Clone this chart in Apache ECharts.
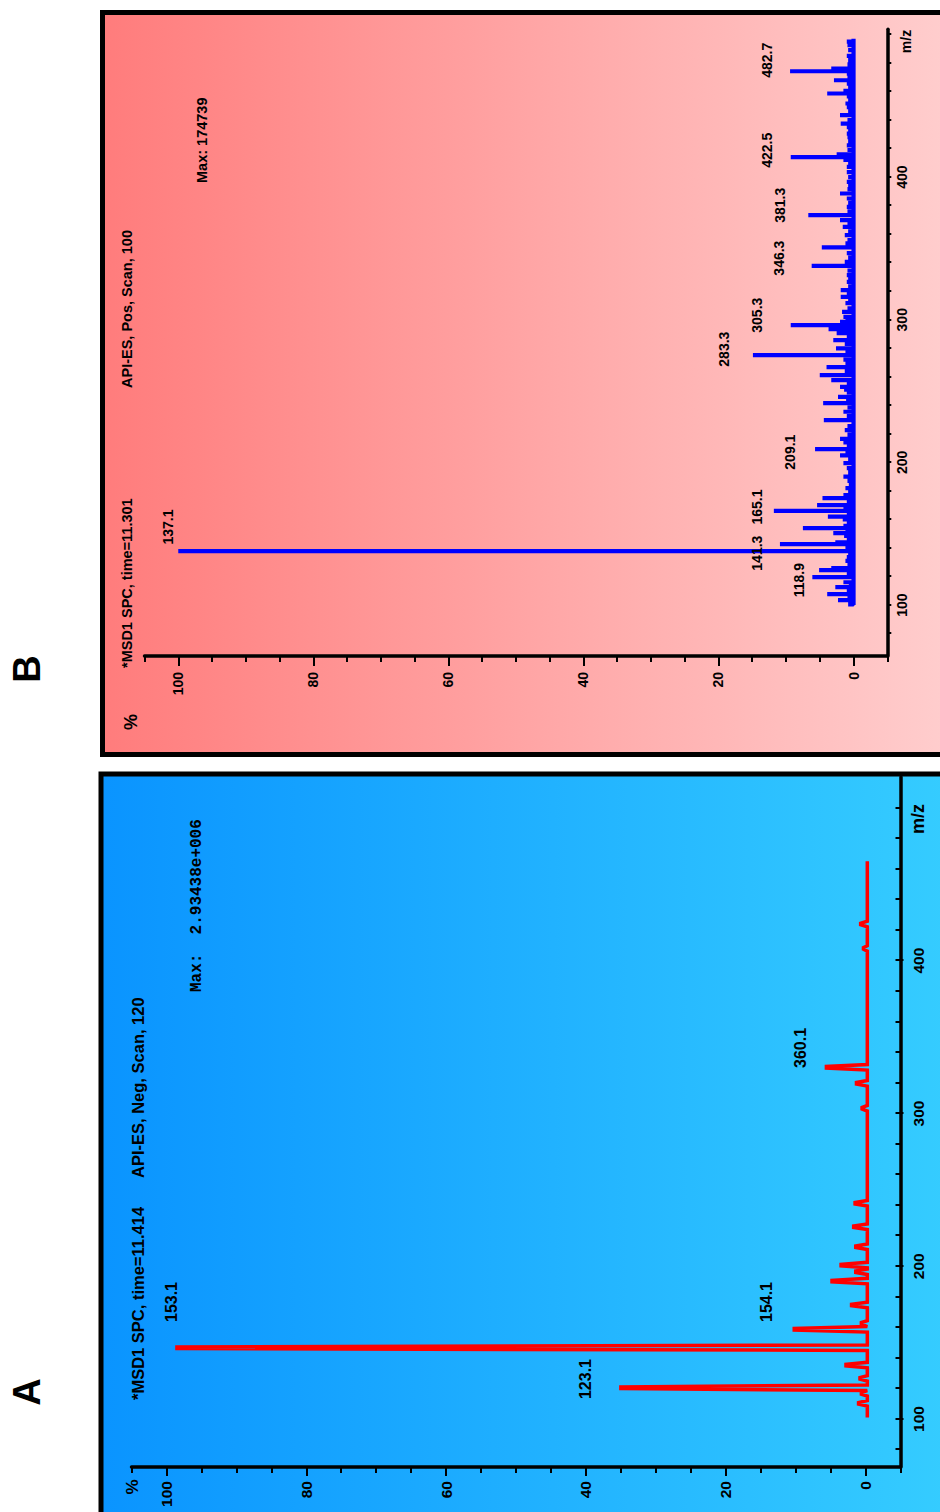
<!DOCTYPE html>
<html><head><meta charset="utf-8">
<script src="https://cdn.jsdelivr.net/npm/echarts@6.0.0/dist/echarts.min.js"></script>
<style>
html,body{margin:0;padding:0;width:940px;height:1512px;overflow:hidden;background:#fff;}
#chart{position:absolute;left:0;top:0;width:1512px;height:940px;transform-origin:0 0;transform:translate(0px,1512px) rotate(-90deg);}
</style></head><body><div id="chart"></div>
<script>
const FONT = '"Liberation Sans", Arial, Helvetica, sans-serif';

// ---------- Panel A : API-ES, Neg (m/z, % intensity) ----------
const peakMzA  = [110.3, 116.8, 120.5, 126.6, 135.3, 146.7, 158.7, 162.6, 174.6, 190.3, 196.4, 200.8, 212.8, 225.9, 241.2, 303.4, 319.7, 330.2, 408.0, 424.0];
const peakPctA = [1.0,   0.6,   35.0,  0.8,   2.8,   98.5,  10.2,  0.6,   2.0,   4.8,   1.4,   3.5,   1.4,   1.7,   1.5,   0.5,   1.3,   5.6,   0.3,   0.7];
const baselineA = -0.25;
const traceRangeA = [101, 465];
const annoTextA = ['123.1', '153.1', '154.1', '360.1'];
const annoMzA   = [126.2, 176.6, 176.6, 342.9];
const annoPctA  = [38.9, 98.1, 13.0, 8.1];

// ---------- Panel B : API-ES, Pos ----------
const peakMzB = [100.5,103.5,105.5,107.7,110.0,112.6,114.5,116.0,119.6,122.0,124.5,126.0,128.5,131.0,133.6,135.5,137.8,140.0,142.7,144.0,146.5,148.5,150.5,152.0,154.0,155.5,158.0,160.0,162.0,164.0,166.0,168.0,170.0,172.0,175.0,177.0,179.5,182.0,184.5,187.0,190.0,193.0,196.0,199.5,202.0,205.0,207.0,209.3,212.0,214.0,216.5,219.5,222.6,225.5,229.6,232.5,235.5,238.5,241.6,244.0,246.0,249.0,251.0,253.0,255.5,257.7,261.2,264.0,266.8,269.5,272.0,275.2,278.0,280.0,283.0,285.7,288.0,290.6,293.5,296.2,298.5,300.5,302.0,305.5,308.0,311.6,314.0,316.0,318.0,320.7,323.5,326.6,329.0,331.3,334.5,337.8,340.6,343.5,346.7,350.7,353.5,355.8,359.3,362.0,365.1,367.5,369.8,373.3,376.0,379.1,382.0,385.0,388.5,391.5,394.0,396.6,400.0,403.5,407.1,410.0,412.0,414.0,416.0,419.0,422.3,425.0,428.0,430.5,433.0,435.0,437.5,440.0,443.4,446.0,449.0,451.6,454.0,456.5,458.6,460.5,463.0,465.5,467.9,470.5,472.5,474.2,476.1,479.0,482.0,485.0,489.0,492.5,495.0];
const peakPctB = [0.8,2.3,0.9,3.9,1.0,2.7,0.7,1.5,6.1,1.0,5.1,3.3,0.9,1.2,1.0,0.8,100,1.2,10.9,2.7,1.0,1.4,3.0,1.2,7.5,1.5,1.0,1.6,3.8,1.0,11.8,1.5,5.4,1.0,4.6,1.5,0.8,1.2,0.7,0.9,1.5,0.8,1.0,1.5,0.8,2.0,1.2,5.7,1.0,1.5,2.0,0.9,1.3,0.9,4.4,1.0,1.5,0.9,4.5,1.1,2.3,1.0,1.4,2.0,1.0,3.3,5.0,1.3,4.0,1.2,1.5,14.9,1.2,2.6,1.3,3.0,1.0,2.5,3.7,9.3,2.0,1.2,1.5,1.7,0.9,1.2,0.8,1.9,1.0,1.9,0.8,1.0,0.8,1.0,0.9,6.2,1.3,0.8,1.0,4.7,1.2,0.9,1.3,0.8,1.6,0.9,2.0,6.7,0.9,1.0,0.8,1.0,2.0,0.9,0.8,1.0,0.8,1.0,1.0,0.8,1.5,9.3,2.5,0.9,1.0,0.8,0.9,1.0,0.8,1.0,1.9,0.9,2.0,0.8,1.0,1.2,0.8,1.0,3.9,1.5,0.8,1.0,2.9,0.9,1.0,9.4,3.3,0.9,0.8,1.0,0.8,0.9,1.0];
const baselineB = 0;
const traceRangeB = [100, 497];
const annoTextB = ['118.9','137.1','141.3','165.1','209.1','283.3','305.3','346.3','381.3','422.5','482.7'];
const annoMzB   = [117.5, 154.7, 136.4, 168.7, 207.2, 279.4, 303.2, 343.2, 380.3, 418.8, 481.9];
const annoPctB  = [7.0, 100.5, 13.3, 13.3, 8.4, 18.1, 13.3, 10.0, 9.8, 11.8, 11.8];

// ---------- axis ticks / labels ----------
const pctTicks      = [-5,0,5,10,15,20,25,30,35,40,45,50,55,60,65,70,75,80,85,90,95,100,105];
const pctMajorTicks = [0,20,40,60,80,100];
const pctLabels     = [0,20,40,60,80,100];
const mzTicks       = [80,100,120,140,160,180,200,220,240,260,280,300,320,340,360,380,400,420,440,460,480,500];
const mzLabels      = [100,200,300,400];

// ---------- build traces ----------
const SPIKE_BASE = 1.8, SPIKE_TOP = 0.5;
const dataA = [[traceRangeA[0], baselineA]];
peakMzA.forEach((m, i) => {
  dataA.push([m - SPIKE_BASE, baselineA], [m - SPIKE_TOP, peakPctA[i]], [m + SPIKE_TOP, peakPctA[i]], [m + SPIKE_BASE, baselineA]);
});
dataA.push([traceRangeA[1], baselineA]);

const dataB = [[traceRangeB[0], baselineB]];
peakMzB.forEach((m, i) => {
  dataB.push([m, baselineB], [m, peakPctB[i]], [m, baselineB]);
});
dataB.push([traceRangeB[1], baselineB]);

const black = '#000';
function mzAxis(grid, min, max, opt) {
  return {
    gridIndex: grid, type: 'value', min: min, max: max, position: 'bottom',
    axisLine: { show: opt.line, onZero: false, lineStyle: { color: black, width: 3.5 } },
    axisTick: { show: true, inside: opt.inside, length: opt.len, customValues: opt.ticks, lineStyle: { color: black, width: 2 } },
    axisLabel: { show: opt.labels, customValues: mzLabels, color: black, fontFamily: FONT, fontWeight: 'bold', fontSize: opt.fs, margin: opt.margin },
    splitLine: { show: false }
  };
}
function pctAxis(grid, opt) {
  return {
    gridIndex: grid, type: 'value', min: -5, max: 105, position: 'left',
    axisLine: { show: opt.line, onZero: false, lineStyle: { color: black, width: 3.5 } },
    axisTick: { show: true, inside: false, length: opt.len, customValues: opt.ticks, lineStyle: { color: black, width: 2 } },
    axisLabel: { show: opt.labels, customValues: pctLabels, color: black, fontFamily: FONT, fontWeight: 'bold', fontSize: opt.fs, margin: opt.margin },
    splitLine: { show: false }
  };
}

const gradA = new echarts.graphic.LinearGradient(0, 0, 0, 1, [{ offset: 0, color: '#0a94ff' }, { offset: 1, color: '#35ccff' }]);
const gradB = new echarts.graphic.LinearGradient(0, 0, 0, 1, [{ offset: 0, color: '#ff7c7c' }, { offset: 1, color: '#ffcdcd' }]);

function txt(text, x, y, size, align, family, vAlign) {
  return { type: 'text', z: 20, style: { text: text, x: x, y: y, align: align || 'left', verticalAlign: vAlign || 'middle',
    fill: black, font: 'bold ' + size + 'px ' + (family || FONT) } };
}

const baseGraphics = [
  { type: 'rect', z: -10, shape: { x: -10, y: 101, width: 748, height: 844 }, style: { fill: gradA, stroke: black, lineWidth: 5 } },
  { type: 'rect', z: -10, shape: { x: 757.5, y: 102.5, width: 742, height: 842.5 }, style: { fill: gradB, stroke: black, lineWidth: 5 } },
  txt('A', 120, 27, 38, 'center'),
  txt('B', 843, 27, 38, 'center'),
  txt('*MSD1 SPC, time=11.414', 112, 138, 16.5),
  txt('API-ES, Neg, Scan, 120', 334, 138, 16.5),
  txt('Max:  2.93438e+006', 520, 197, 16, 'left', '"Liberation Mono", "Courier New", monospace'),
  txt('%', 25, 132, 17, 'center'),
  txt('m/z', 693, 918, 18, 'center'),
  txt('*MSD1 SPC, time=11.301', 844, 127, 14.5),
  txt('API-ES, Pos, Scan, 100', 1124, 127, 14.5),
  txt('Max: 174739', 1329, 202, 14.5),
  txt('%', 790, 131, 18, 'center'),
  txt('m/z', 1470.5, 906, 14, 'center')
];

const chart = echarts.init(document.getElementById('chart'), null, { renderer: 'svg', width: 1512, height: 940 });
chart.setOption({
  animation: false,
  backgroundColor: '#ffffff',
  textStyle: { fontFamily: FONT },
  grid: [
    { left: 45, right: 777, top: 131.5, bottom: 39.5 },
    { left: 856, right: 29.3, top: 144.5, bottom: 52.7 }
  ],
  xAxis: [
    mzAxis(0, 68.6, 520.2, { line: true, inside: true, len: 5, ticks: mzTicks, labels: true, fs: 15.5, margin: 10 }),
    mzAxis(0, 68.6, 520.2, { line: false, inside: false, len: 3, ticks: mzLabels, labels: false, fs: 15.5, margin: 10 }),
    mzAxis(1, 64.3, 503.6, { line: true, inside: false, len: 4, ticks: mzTicks, labels: true, fs: 14, margin: 8 })
  ],
  yAxis: [
    pctAxis(0, { line: true, len: 6, ticks: pctTicks, labels: true, fs: 15.5, margin: 14 }),
    pctAxis(0, { line: false, len: 9, ticks: pctMajorTicks, labels: false, fs: 15.5, margin: 14 }),
    pctAxis(1, { line: true, len: 6, ticks: pctTicks, labels: true, fs: 14, margin: 16 }),
    pctAxis(1, { line: false, len: 10, ticks: pctMajorTicks, labels: false, fs: 14, margin: 16 })
  ],
  series: [
    { type: 'line', xAxisIndex: 0, yAxisIndex: 0, data: dataA, symbol: 'none', silent: true, clip: false, z: 3,
      lineStyle: { color: '#ff0000', width: 3.5, join: 'miter' } },
    { type: 'line', xAxisIndex: 2, yAxisIndex: 2, data: dataB, symbol: 'none', silent: true, clip: false, z: 3,
      lineStyle: { color: '#0000ff', width: 4.2, join: 'bevel' } }
  ],
  graphic: baseGraphics
});

// peak annotations placed through the axes' own scales
const annoGraphics = [];
annoTextA.forEach((t, i) => {
  const p = chart.convertToPixel({ xAxisIndex: 0, yAxisIndex: 0 }, [annoMzA[i], annoPctA[i]]);
  annoGraphics.push(txt(t, p[0], p[1], 16, 'center', null, 'bottom'));
});
annoTextB.forEach((t, i) => {
  const p = chart.convertToPixel({ xAxisIndex: 2, yAxisIndex: 2 }, [annoMzB[i], annoPctB[i]]);
  annoGraphics.push(txt(t, p[0], p[1], 14, 'center', null, 'bottom'));
});
chart.setOption({ graphic: baseGraphics.concat(annoGraphics) });
</script></body></html>
